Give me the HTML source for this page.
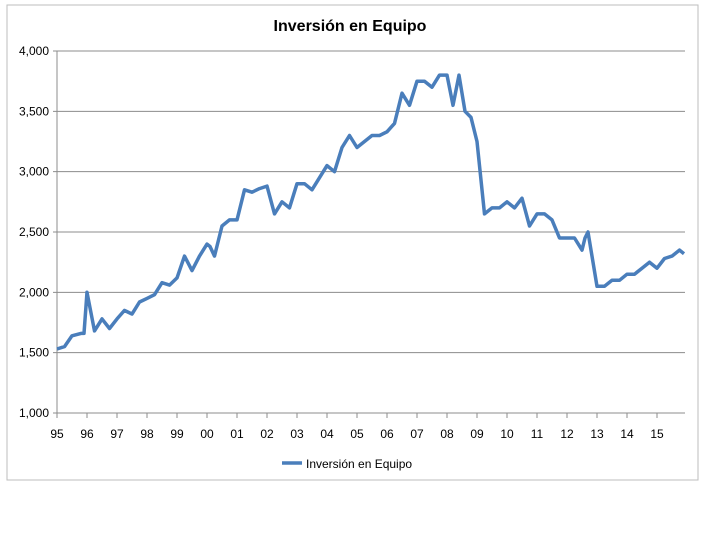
<!DOCTYPE html>
<html><head><meta charset="utf-8"><style>
body{margin:0;background:#fff;width:720px;height:540px;overflow:hidden;font-family:"Liberation Sans",sans-serif}
</style></head><body>
<svg width="720" height="540">
<rect x="7" y="5" width="691" height="475" fill="#fff" stroke="#bdbdbd"/>
<text x="350" y="31" text-anchor="middle" font-size="16" font-weight="bold" fill="#000">Inversión en Equipo</text>
<g id="grid"></g><g id="axes"></g>
<path id="line" fill="none" stroke="#4a7ebb" stroke-width="3.5" stroke-linejoin="round"/>
<line x1="282" y1="463" x2="302" y2="463" stroke="#4a7ebb" stroke-width="3.5"/>
<text x="306" y="468" font-size="12" fill="#000">Inversión en Equipo</text>
</svg>
<script>
const yTicks=[1000,1500,2000,2500,3000,3500,4000];
const yearLabels=["95","96","97","98","99","00","01","02","03","04","05","06","07","08","09","10","11","12","13","14","15"];
const times=[1995,1995.25,1995.5,1995.8,1995.9,1996.0,1996.25,1996.5,1996.75,1997,1997.25,1997.5,1997.75,1998,1998.25,1998.5,1998.75,1999,1999.25,1999.5,1999.75,2000,2000.1,2000.25,2000.5,2000.75,2001,2001.25,2001.5,2001.75,2002,2002.25,2002.5,2002.75,2003,2003.25,2003.5,2003.75,2004,2004.25,2004.5,2004.75,2005,2005.25,2005.5,2005.75,2006,2006.25,2006.5,2006.75,2007,2007.25,2007.5,2007.75,2008,2008.2,2008.4,2008.6,2008.8,2009,2009.25,2009.5,2009.75,2010,2010.25,2010.5,2010.75,2011,2011.25,2011.5,2011.75,2012,2012.25,2012.5,2012.6,2012.7,2013,2013.25,2013.5,2013.75,2014,2014.25,2014.5,2014.75,2015,2015.25,2015.5,2015.75,2015.9];
const values=[1530,1550,1640,1660,1660,2000,1680,1780,1700,1780,1850,1820,1920,1950,1980,2080,2060,2120,2300,2180,2300,2400,2380,2300,2550,2600,2600,2850,2830,2860,2880,2650,2750,2700,2900,2900,2850,2950,3050,3000,3200,3300,3200,3250,3300,3300,3330,3400,3650,3550,3750,3750,3700,3800,3800,3550,3800,3500,3450,3250,2650,2700,2700,2750,2700,2780,2550,2650,2650,2600,2450,2450,2450,2350,2450,2500,2050,2050,2100,2100,2150,2150,2200,2250,2200,2280,2300,2350,2320,2310];
const X=t=>57+(t-1995)*30, Y=v=>413-(v-1000)*362/3000;
const ns="http://www.w3.org/2000/svg";
const g=document.getElementById('grid'), a=document.getElementById('axes');
yTicks.forEach(v=>{
 const l=document.createElementNS(ns,'line');
 l.setAttribute('x1',53);l.setAttribute('x2',685);l.setAttribute('y1',Y(v));l.setAttribute('y2',Y(v));
 l.setAttribute('stroke','#8c8c8c');l.setAttribute('stroke-width','1');
 
 
 g.appendChild(l);
 const t=document.createElementNS(ns,'text');
 t.setAttribute('x',49);t.setAttribute('y',Y(v)+4);t.setAttribute('text-anchor','end');t.setAttribute('font-size','12');
 t.textContent=v.toLocaleString('en-US');
 
 
 a.appendChild(t);
});
const ax=document.createElementNS(ns,'line');
ax.setAttribute('x1',57);ax.setAttribute('x2',57);ax.setAttribute('y1',51);ax.setAttribute('y2',413);ax.setAttribute('stroke','#8c8c8c');


a.appendChild(ax);
yearLabels.forEach((s,i)=>{
 const x=X(1995+i);
 const tk=document.createElementNS(ns,'line');
 tk.setAttribute('x1',x);tk.setAttribute('x2',x);tk.setAttribute('y1',413);tk.setAttribute('y2',418);tk.setAttribute('stroke','#8c8c8c');
 
 
 a.appendChild(tk);
 const t=document.createElementNS(ns,'text');
 t.setAttribute('x',x);t.setAttribute('y',438);t.setAttribute('text-anchor','middle');t.setAttribute('font-size','12');
 t.textContent=s;
 
 
 a.appendChild(t);
});
document.getElementById('line').setAttribute('d',values.map((v,i)=>(i?'L':'M')+X(times[i]).toFixed(1)+','+Y(v).toFixed(1)).join(''));
</script>
</body></html>
